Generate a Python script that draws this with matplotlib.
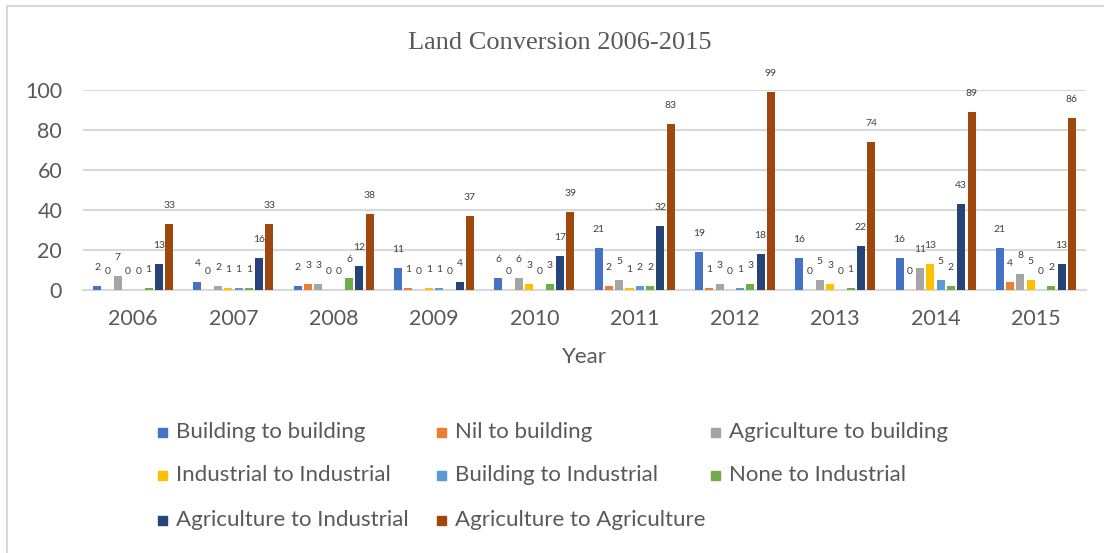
import numpy as np
import matplotlib
matplotlib.use("Agg")
import matplotlib.pyplot as plt
from matplotlib.patches import Rectangle
from matplotlib.lines import Line2D

# ---- data ----
years = ["2006", "2007", "2008", "2009", "2010", "2011", "2012", "2013", "2014", "2015"]
series_names = [
    "Building to building", "Nil to building", "Agriculture to building",
    "Industrial to Industrial", "Building to Industrial", "None to Industrial",
    "Agriculture to Industrial", "Agriculture to Agriculture",
]
building_to_building = [2, 4, 2, 11, 6, 21, 19, 16, 16, 21]
nil_to_building = [0, 0, 3, 1, 0, 2, 1, 0, 0, 4]
agri_to_building = [7, 2, 3, 0, 6, 5, 3, 5, 11, 8]
ind_to_ind = [0, 1, 0, 1, 3, 1, 0, 3, 13, 5]
building_to_ind = [0, 1, 0, 1, 0, 2, 1, 0, 5, 0]
none_to_ind = [1, 1, 6, 0, 3, 2, 3, 1, 2, 2]
agri_to_ind = [13, 16, 12, 4, 17, 32, 18, 22, 43, 13]
agri_to_agri = [33, 33, 38, 37, 39, 83, 99, 74, 89, 86]

all_series = [building_to_building, nil_to_building, agri_to_building, ind_to_ind,
              building_to_ind, none_to_ind, agri_to_ind, agri_to_agri]
colors = ["#4472C4", "#ED7D31", "#A5A5A5", "#FFC000",
          "#5B9BD5", "#70AD47", "#264478", "#9E480E"]

TXT = "#595959"
GRID = "#D9D9D9"
W, H = 1104, 553

plt.rcParams["font.family"] = ["Lato", "DejaVu Sans"]

fig = plt.figure(figsize=(W / 100, H / 100), dpi=100)
ax = fig.add_axes([83 / W, 1 - 290 / H, 1003 / W, 200 / H])

x = np.arange(len(years))
slot = 0.1025
bw = 0.08
for j, (vals, col) in enumerate(zip(all_series, colors)):
    xs = x + (j - 3.5) * slot
    ax.bar(xs, vals, width=bw, color=col, zorder=3)
    for xi, v in zip(xs, vals):
        ax.annotate(str(v), (xi, v), xytext=(0, 13), textcoords="offset points",
                    ha="center", va="center", fontsize=7.5, color="#404040",
                    annotation_clip=False)

ax.set_xlim(-0.5, len(years) - 0.5)
ax.set_ylim(0, 100)
ax.set_yticks(range(0, 101, 20))
ax.set_xticks(x)
ax.set_xticklabels(years)
ax.tick_params(axis="both", length=0, labelsize=15.5, labelcolor=TXT)
ax.tick_params(axis="y", pad=15)
ax.tick_params(axis="x", pad=14)
ax.yaxis.grid(True, color=GRID, lw=1.5, zorder=0)
for s in ["top", "right", "left"]:
    ax.spines[s].set_visible(False)
ax.spines["bottom"].set_color(GRID)
ax.spines["bottom"].set_linewidth(1.5)

fig.text(584 / W, 1 - 357 / H, "Year", ha="center", va="center", fontsize=16, color=TXT)
fig.text(560 / W, 1 - 43 / H, "Land Conversion 2006-2015", ha="center", va="center",
         fontsize=19, color=TXT, family=["Liberation Serif", "DejaVu Serif"])

# legend laid out like the Excel one: 3 fixed-width columns
col_x = [158, 437, 711]
row_y = [432, 475, 520]
sq = 9
for k, (name, col) in enumerate(zip(series_names, colors)):
    cx = col_x[k % 3]
    cy = row_y[k // 3]
    fig.patches.append(Rectangle((cx / W, (H - cy - sq / 2) / H), sq / W, sq / H,
                                 transform=fig.transFigure, color=col))
    fig.text((cx + 18) / W, 1 - cy / H, name, ha="left", va="center", fontsize=16, color=TXT)

# chart frame (top and left edges visible in the reference)
fig.add_artist(Line2D([7 / W, 1], [1 - 6 / H, 1 - 6 / H], color=GRID, lw=1.5))
fig.add_artist(Line2D([7 / W, 7 / W], [0, 1 - 6 / H], color=GRID, lw=1.5))

fig.savefig("out.png", dpi=100)
